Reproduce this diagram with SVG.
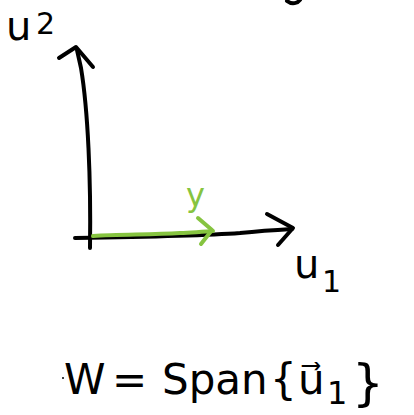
<svg xmlns="http://www.w3.org/2000/svg" width="414" height="415" viewBox="0 0 414 415">
<style>
.ink{fill:none;stroke:#000;stroke-width:4;stroke-linecap:round;stroke-linejoin:round}
.green{fill:none;stroke:#86c440;stroke-width:4;stroke-linecap:round;stroke-linejoin:round}
.lbl{font-family:"DejaVu Sans","Liberation Sans",sans-serif;fill:#000}
</style>
<rect width="414" height="415" fill="#fff"/>
<g id="axes">
<path class="ink" d="M90,248 C91,180 88,110 81,68 L77,50"/>
<path class="ink" d="M59,58 L76,47 L93,67"/>
<path class="ink" d="M75,238 C140,237 200,236 240,233 C260,231 275,230 292,229"/>
<path class="ink" d="M267,214 L293,228 L278,245"/>
<path class="ink" d="M287,1 C292,5 298,3 300,0"/>
</g>
<g id="vector-y">
<path class="green" d="M93,236 C120,234 150,235 180,233 C195,232 205,232 213,231"/>
<path class="green" d="M198,218 L212,230 L201,244"/>
<text class="lbl" x="186" y="206" font-size="32" style="fill:#86c440">y</text>
</g>
<g id="label-u2">
<text class="lbl" x="6" y="40" font-size="40">u<tspan x="36" font-size="30" dy="-6">2</tspan></text>
</g>
<g id="label-u1">
<text class="lbl" x="294" y="278" font-size="40">u<tspan x="322" font-size="30" dy="14">1</tspan></text>
</g>
<g id="equation">
<circle cx="63" cy="378" r="1" fill="#000"/>
<text class="lbl" font-size="42" y="394"><tspan x="64">W</tspan><tspan x="112">=</tspan><tspan x="162">Span</tspan><tspan x="270">{</tspan><tspan x="298">u⃗</tspan><tspan x="327" font-size="32" dy="10">1</tspan><tspan x="352" font-size="50" dy="-4">}</tspan></text>
</g>
</svg>
